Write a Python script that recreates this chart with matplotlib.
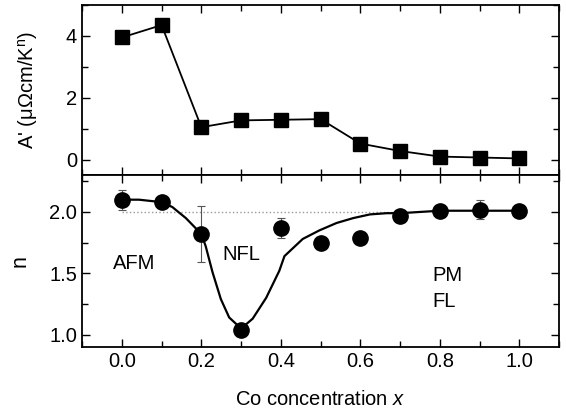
import numpy as np
import matplotlib.pyplot as plt
from matplotlib.ticker import MultipleLocator

plt.rcParams['font.family'] = ['Liberation Sans', 'DejaVu Sans']
plt.rcParams['mathtext.fontset'] = 'custom'
plt.rcParams['mathtext.it'] = 'Liberation Sans:italic'
plt.rcParams['mathtext.rm'] = 'Liberation Sans'

# data
co_x = [0.0, 0.1, 0.2, 0.3, 0.4, 0.5, 0.6, 0.7, 0.8, 0.9, 1.0]
a_prime = [3.95, 4.35, 1.05, 1.27, 1.29, 1.31, 0.52, 0.28, 0.10, 0.07, 0.04]
n_vals = [2.10, 2.08, 1.82, 1.04, 1.87, 1.75, 1.79, 1.97, 2.01, 2.02, 2.01]
n_err = [0.08, 0.02, 0.23, 0.02, 0.08, 0.03, 0.03, 0.02, 0.04, 0.08, 0.03]

guide_x = [0.0, 0.043, 0.1, 0.127, 0.161, 0.2, 0.211, 0.228, 0.249, 0.27, 0.3,
           0.329, 0.363, 0.396, 0.409, 0.455, 0.497, 0.54, 0.582, 0.624, 0.666,
           0.7, 0.8, 0.9, 1.0]
guide_y = [2.10, 2.10, 2.08, 2.04, 1.95, 1.82, 1.72, 1.51, 1.29, 1.14, 1.05,
           1.13, 1.30, 1.52, 1.64, 1.78, 1.85, 1.91, 1.95, 1.98, 1.99,
           1.99, 2.01, 2.01, 2.01]

fs = 14.5

fig = plt.figure(figsize=(5.66, 4.17), dpi=100)
ax1 = fig.add_axes([0.145, 0.580, 0.843, 0.408])
ax2 = fig.add_axes([0.145, 0.168, 0.843, 0.412], sharex=ax1)

ax1.plot(co_x, a_prime, 'k-', lw=1.3, marker='s', ms=10, mfc='k', mec='k')
ax1.set_ylim(-0.5, 5)
ax1.yaxis.set_major_locator(MultipleLocator(2))
ax1.yaxis.set_minor_locator(MultipleLocator(1))
ax1.set_ylabel("A' (\u03bc\u03a9cm/K$^{\\mathrm{n}}$)", fontsize=fs)

ax2.plot([0.0, 0.7], [2.0, 2.0], color='#999999', ls=':', lw=1.0)
ax2.plot(guide_x, guide_y, 'k-', lw=1.6)
ax2.errorbar(co_x, n_vals, yerr=n_err, fmt='o', ms=11, mfc='k', mec='k',
             ecolor='#555555', elinewidth=0.8, capsize=3, capthick=0.8)
ax2.set_ylim(0.9, 2.3)
ax2.yaxis.set_major_locator(MultipleLocator(0.5))
ax2.yaxis.set_minor_locator(MultipleLocator(0.25))
ax2.set_ylabel('n', fontsize=fs + 1)
ax2.set_xlabel('Co concentration $x$', fontsize=fs, labelpad=14)

ax2.text(0.03, 1.58, 'AFM', fontsize=fs, ha='center', va='center')
ax2.text(0.30, 1.65, 'NFL', fontsize=fs, ha='center', va='center')
ax2.text(0.78, 1.48, 'PM', fontsize=fs, ha='left', va='center')
ax2.text(0.78, 1.27, 'FL', fontsize=fs, ha='left', va='center')

ax1.set_xlim(-0.1, 1.1)
ax1.xaxis.set_major_locator(MultipleLocator(0.2))
ax1.xaxis.set_minor_locator(MultipleLocator(0.1))

for ax in (ax1, ax2):
    for sp in ax.spines.values():
        sp.set_linewidth(1.3)
    ax.tick_params(which='both', direction='in', top=True, right=True,
                   labelsize=fs, width=1.0)
    ax.tick_params(which='major', length=6)
    ax.tick_params(which='minor', length=4)
ax1.tick_params(labelbottom=False)
ax1.yaxis.set_label_coords(-0.088, 0.5)
ax2.yaxis.set_label_coords(-0.108, 0.5)

fig.savefig('out.png', dpi=100)
